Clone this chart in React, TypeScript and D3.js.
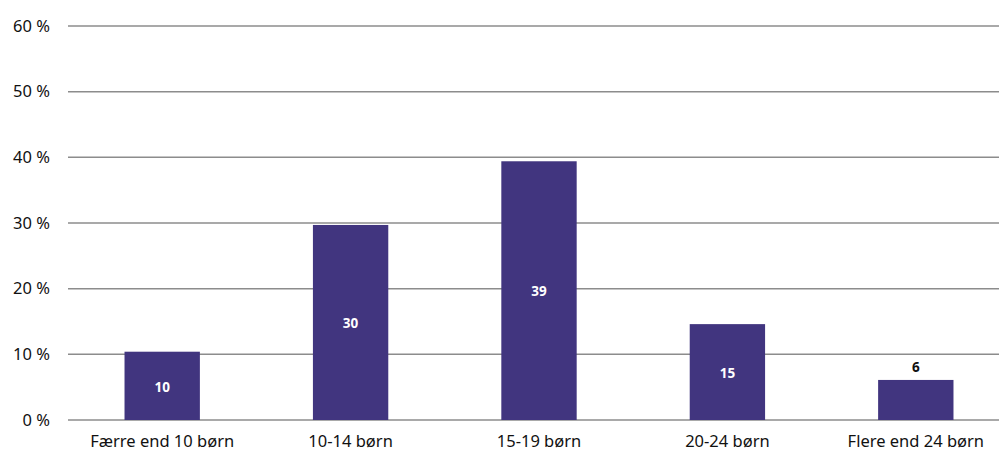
import React from "react";
import * as d3 from "d3";

const categories = ["Færre end 10 børn", "10-14 børn", "15-19 børn", "20-24 børn", "Flere end 24 børn"];
const values = [10.4, 29.7, 39.4, 14.6, 6.1];
const yTicks = [0, 10, 20, 30, 40, 50, 60];

const W = 999;
const H = 453;
const margin = { left: 68, right: -11, top: 26, bottom: 33 };

export default function App() {
  const x = d3
    .scaleBand<string>()
    .domain(categories)
    .range([margin.left, W - margin.right])
    .paddingInner(0.6)
    .paddingOuter(0.3);
  const y = d3.scaleLinear().domain([0, 60]).range([H - margin.bottom, margin.top]);
  const font = "'Noto Sans', 'Open Sans', sans-serif";
  return (
    <svg
      width={W}
      height={H}
      style={{ position: "absolute", left: 0, top: 0, fontFamily: font }}
    >
      <rect x={0} y={0} width={W} height={H} fill="#fff" />
      {yTicks.map((t) => (
        <g key={t}>
          <line x1={margin.left} x2={W - margin.right} y1={y(t)} y2={y(t)} stroke="#8c8c8c" strokeWidth={1.5} />
          <text x={50} y={y(t)} dy="0.35em" textAnchor="end" fontSize={16.5} fill="#111">
            {t} %
          </text>
        </g>
      ))}
      {categories.map((c, i) => {
        const v = values[i];
        const x0 = x(c)!;
        const bw = x.bandwidth();
        const top = y(v);
        const h = y(0) - top;
        const inside = v >= 10;
        return (
          <g key={c}>
            <rect x={x0} y={top} width={bw} height={h} fill="#41357f" />
            <text
              x={x0 + bw / 2}
              y={inside ? top + h / 2 + 1 : top - 13}
              dy="0.35em"
              textAnchor="middle"
              fontSize={13.5}
              fontWeight="bold"
              fill={inside ? "#fff" : "#111"}
            >
              {Math.round(v)}
            </text>
            <text x={x0 + bw / 2} y={447} textAnchor="middle" fontSize={16.5} fill="#111">
              {c}
            </text>
          </g>
        );
      })}
    </svg>
  );
}
